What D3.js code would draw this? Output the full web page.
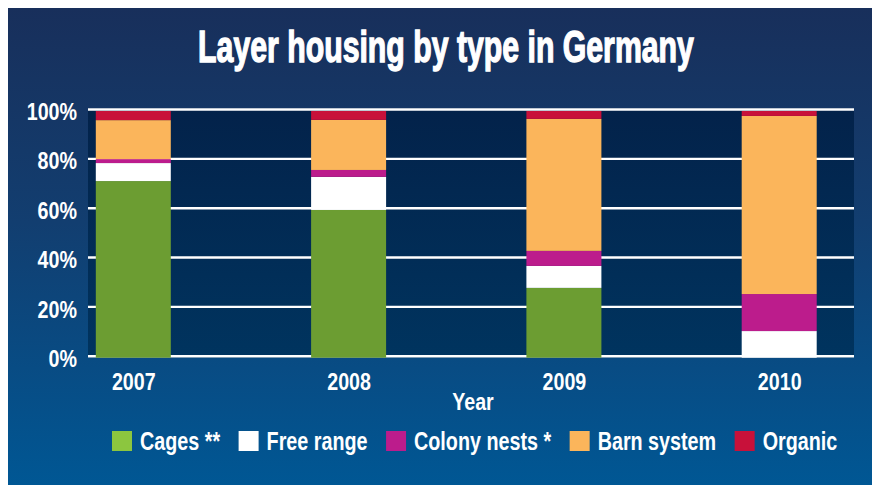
<!DOCTYPE html>
<html>
<head>
<meta charset="utf-8">
<script src="https://cdn.jsdelivr.net/npm/d3@7"></script>
<style>
  html, body { margin: 0; padding: 0; background: #ffffff; }
  svg { display: block; }
  text { font-family: "Liberation Sans", Arial, sans-serif; font-weight: bold; fill: #ffffff; }
</style>
</head>
<body>
<svg id="chart" width="872" height="485"></svg>
<script>
// Share of laying-hen places by housing type (percent of total)
const years = ["2007", "2008", "2009", "2010"];
const series = ["Cages **", "Free range", "Colony nests *", "Barn system", "Organic"];
const cages       = [71.6, 59.9, 28.3, 0];
const freeRange   = [7.3, 13.4, 8.9, 10.8];
const colonyNests = [1.6, 2.8, 6.1, 15.0];
const barnSystem  = [15.8, 20.3, 53.5, 72.2];
const organic     = [3.7, 3.6, 3.2, 2.0];
const yTicks = [0, 20, 40, 60, 80, 100];

const barColors    = ["#6c9d32", "#ffffff", "#bc1c8c", "#fbb55b", "#c8113a"];
const swatchColors = ["#8cc63f", "#ffffff", "#bc1c8c", "#fbb55b", "#c8113a"];

const rows = years.map((yr, i) => ({
  year: yr,
  "Cages **": cages[i],
  "Free range": freeRange[i],
  "Colony nests *": colonyNests[i],
  "Barn system": barnSystem[i],
  "Organic": organic[i]
}));

const svg = d3.select("#chart");
const defs = svg.append("defs");

const bgGrad = defs.append("linearGradient").attr("id", "panelGrad")
  .attr("x1", 0).attr("y1", 0).attr("x2", 0).attr("y2", 1);
bgGrad.append("stop").attr("offset", "0%").attr("stop-color", "#182f5b");
bgGrad.append("stop").attr("offset", "45%").attr("stop-color", "#123e70");
bgGrad.append("stop").attr("offset", "100%").attr("stop-color", "#005794");

const plotGrad = defs.append("linearGradient").attr("id", "plotGrad")
  .attr("x1", 0).attr("y1", 0).attr("x2", 0).attr("y2", 1);
plotGrad.append("stop").attr("offset", "0%").attr("stop-color", "#03224a");
plotGrad.append("stop").attr("offset", "100%").attr("stop-color", "#00345f");

// Outer panel
svg.append("rect").attr("x", 8).attr("y", 8).attr("width", 864).attr("height", 477)
  .attr("fill", "url(#panelGrad)");

// Plot frame
const plot = { left: 88, right: 854, top: 111, bottom: 357.7 };
const sx = 0.82;  // horizontal squeeze for a condensed look
const lsx = 0.79; // legend text squeeze

svg.append("rect")
  .attr("x", plot.left).attr("y", plot.top - 3)
  .attr("width", plot.right - plot.left).attr("height", plot.bottom - plot.top + 3)
  .attr("fill", "url(#plotGrad)");

const x = d3.scalePoint().domain(years).range([133.3, 779.2]);
const y = d3.scaleLinear().domain([0, 100]).range([plot.bottom, plot.top]);
const barWidth = 75;

// Horizontal grid lines
const grid = svg.append("g")
  .attr("transform", `translate(${plot.left},-2)`)
  .call(d3.axisLeft(y).tickValues(yTicks).tickSize(-(plot.right - plot.left)).tickFormat(""));
grid.select(".domain").remove();
grid.selectAll(".tick line").attr("stroke", "#ffffff").attr("stroke-width", 2.4);

// Stacked bars
const stack = d3.stack().keys(series)(rows);
const color = d3.scaleOrdinal().domain(series).range(barColors);

svg.append("g").selectAll("g")
  .data(stack)
  .join("g")
  .attr("fill", d => color(d.key))
  .selectAll("rect")
  .data(d => d)
  .join("rect")
  .attr("x", d => x(d.data.year) - barWidth / 2)
  .attr("width", barWidth)
  .attr("y", d => y(d[1]))
  .attr("height", d => y(d[0]) - y(d[1]));

// Y axis labels
const yAxis = svg.append("g")
  .attr("transform", `translate(${plot.left},0)`)
  .call(d3.axisLeft(y).tickValues(yTicks).tickFormat(d => d + "%").tickSize(0).tickPadding(0));
yAxis.select(".domain").remove();
yAxis.selectAll(".tick text")
  .attr("x", -11 / sx)
  .attr("dy", "0.36em")
  .attr("transform", `scale(${sx},1)`)
  .style("font-size", "24px")
  .style("font-family", "\"Liberation Sans\", Arial, sans-serif")
  .style("font-weight", "bold")
  .attr("fill", "#ffffff");

// X axis labels
const xAxis = svg.append("g")
  .attr("transform", "translate(0,390)")
  .call(d3.axisBottom(x).tickSize(0).tickPadding(0));
xAxis.select(".domain").remove();
xAxis.selectAll(".tick text")
  .attr("y", 0)
  .attr("dy", 0)
  .attr("transform", `scale(${sx},1)`)
  .style("font-size", "24px")
  .style("font-family", "\"Liberation Sans\", Arial, sans-serif")
  .style("font-weight", "bold")
  .attr("fill", "#ffffff");

// Axis title
svg.append("text")
  .attr("transform", `translate(${(plot.left + plot.right) / 2 + 2},410) scale(${sx},1)`)
  .attr("text-anchor", "middle")
  .style("font-size", "24px")
  .text("Year");

// Chart title
const title = svg.append("text")
  .attr("text-anchor", "middle")
  .attr("stroke", "#ffffff")
  .attr("stroke-width", 1.4)
  .style("font-size", "45px")
  .text("Layer housing by type in Germany");
const titleWidth = title.node().getComputedTextLength();
title.attr("transform", `translate(446,62) scale(${496 / titleWidth},1)`);

// Legend
const legend = svg.append("g").attr("transform", "translate(112,431)");
let lx = 0;
series.forEach((name, i) => {
  const item = legend.append("g").attr("transform", `translate(${lx},0)`);
  item.append("rect").attr("width", 20).attr("height", 20).attr("fill", swatchColors[i]);
  const t = item.append("text")
    .attr("transform", `translate(28,19) scale(${lsx},1)`)
    .style("font-size", "25px")
    .text(name);
  const w = t.node().getComputedTextLength() * lsx;
  lx += 28 + w + 18.5;
});
</script>
</body>
</html>
